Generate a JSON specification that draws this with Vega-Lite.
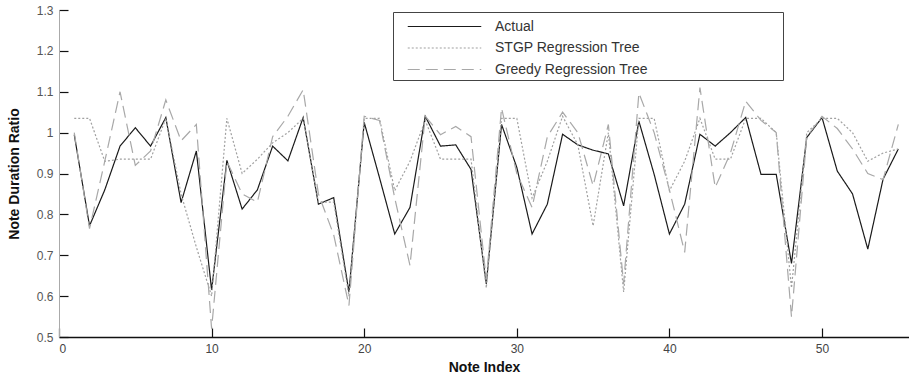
{
  "$schema": "https://vega.github.io/schema/vega-lite/v6.json",
  "autosize": "none",
  "padding": {"left": 59, "top": 10, "right": 0, "bottom": 42},
  "width": 850,
  "height": 327,
  "background": "white",
  "config": {
    "view": {"stroke": null},
    "font": "Liberation Sans"
  },
  "data": {"values": [
    {"i":1,"s":"Actual","v":0.995},{"i":2,"s":"Actual","v":0.772},{"i":3,"s":"Actual","v":0.86},{"i":4,"s":"Actual","v":0.967},{"i":5,"s":"Actual","v":1.012},
    {"i":6,"s":"Actual","v":0.967},{"i":7,"s":"Actual","v":1.037},{"i":8,"s":"Actual","v":0.829},{"i":9,"s":"Actual","v":0.955},{"i":10,"s":"Actual","v":0.615},
    {"i":11,"s":"Actual","v":0.932},{"i":12,"s":"Actual","v":0.813},{"i":13,"s":"Actual","v":0.86},{"i":14,"s":"Actual","v":0.967},{"i":15,"s":"Actual","v":0.931},
    {"i":16,"s":"Actual","v":1.037},{"i":17,"s":"Actual","v":0.825},{"i":18,"s":"Actual","v":0.841},{"i":19,"s":"Actual","v":0.61},{"i":20,"s":"Actual","v":1.025},
    {"i":21,"s":"Actual","v":0.89},{"i":22,"s":"Actual","v":0.752},{"i":23,"s":"Actual","v":0.817},{"i":24,"s":"Actual","v":1.04},{"i":25,"s":"Actual","v":0.967},
    {"i":26,"s":"Actual","v":0.97},{"i":27,"s":"Actual","v":0.91},{"i":28,"s":"Actual","v":0.63},{"i":29,"s":"Actual","v":1.02},{"i":30,"s":"Actual","v":0.915},
    {"i":31,"s":"Actual","v":0.752},{"i":32,"s":"Actual","v":0.825},{"i":33,"s":"Actual","v":0.996},{"i":34,"s":"Actual","v":0.97},{"i":35,"s":"Actual","v":0.957},
    {"i":36,"s":"Actual","v":0.948},{"i":37,"s":"Actual","v":0.821},{"i":38,"s":"Actual","v":1.028},{"i":39,"s":"Actual","v":0.898},{"i":40,"s":"Actual","v":0.752},
    {"i":41,"s":"Actual","v":0.825},{"i":42,"s":"Actual","v":0.996},{"i":43,"s":"Actual","v":0.967},{"i":44,"s":"Actual","v":1.0},{"i":45,"s":"Actual","v":1.037},
    {"i":46,"s":"Actual","v":0.898},{"i":47,"s":"Actual","v":0.898},{"i":48,"s":"Actual","v":0.68},{"i":49,"s":"Actual","v":0.988},{"i":50,"s":"Actual","v":1.037},
    {"i":51,"s":"Actual","v":0.906},{"i":52,"s":"Actual","v":0.85},{"i":53,"s":"Actual","v":0.715},{"i":54,"s":"Actual","v":0.886},{"i":55,"s":"Actual","v":0.96},

    {"i":1,"s":"STGP Regression Tree","v":1.035},{"i":2,"s":"STGP Regression Tree","v":1.035},{"i":3,"s":"STGP Regression Tree","v":0.93},{"i":4,"s":"STGP Regression Tree","v":0.935},{"i":5,"s":"STGP Regression Tree","v":0.935},
    {"i":6,"s":"STGP Regression Tree","v":0.935},{"i":7,"s":"STGP Regression Tree","v":1.035},{"i":8,"s":"STGP Regression Tree","v":0.85},{"i":9,"s":"STGP Regression Tree","v":0.72},{"i":10,"s":"STGP Regression Tree","v":0.6},
    {"i":11,"s":"STGP Regression Tree","v":1.035},{"i":12,"s":"STGP Regression Tree","v":0.9},{"i":13,"s":"STGP Regression Tree","v":0.935},{"i":14,"s":"STGP Regression Tree","v":0.975},{"i":15,"s":"STGP Regression Tree","v":1.0},
    {"i":16,"s":"STGP Regression Tree","v":1.035},{"i":17,"s":"STGP Regression Tree","v":0.83},{"i":18,"s":"STGP Regression Tree","v":0.83},{"i":19,"s":"STGP Regression Tree","v":0.6},{"i":20,"s":"STGP Regression Tree","v":1.035},
    {"i":21,"s":"STGP Regression Tree","v":1.035},{"i":22,"s":"STGP Regression Tree","v":0.858},{"i":23,"s":"STGP Regression Tree","v":0.93},{"i":24,"s":"STGP Regression Tree","v":1.03},{"i":25,"s":"STGP Regression Tree","v":0.935},
    {"i":26,"s":"STGP Regression Tree","v":0.935},{"i":27,"s":"STGP Regression Tree","v":0.935},{"i":28,"s":"STGP Regression Tree","v":0.62},{"i":29,"s":"STGP Regression Tree","v":1.035},{"i":30,"s":"STGP Regression Tree","v":1.035},
    {"i":31,"s":"STGP Regression Tree","v":0.84},{"i":32,"s":"STGP Regression Tree","v":0.93},{"i":33,"s":"STGP Regression Tree","v":1.04},{"i":34,"s":"STGP Regression Tree","v":0.97},{"i":35,"s":"STGP Regression Tree","v":0.772},
    {"i":36,"s":"STGP Regression Tree","v":1.0},{"i":37,"s":"STGP Regression Tree","v":0.61},{"i":38,"s":"STGP Regression Tree","v":1.035},{"i":39,"s":"STGP Regression Tree","v":1.035},{"i":40,"s":"STGP Regression Tree","v":0.858},
    {"i":41,"s":"STGP Regression Tree","v":0.93},{"i":42,"s":"STGP Regression Tree","v":1.035},{"i":43,"s":"STGP Regression Tree","v":0.935},{"i":44,"s":"STGP Regression Tree","v":0.935},{"i":45,"s":"STGP Regression Tree","v":1.035},
    {"i":46,"s":"STGP Regression Tree","v":1.035},{"i":47,"s":"STGP Regression Tree","v":1.0},{"i":48,"s":"STGP Regression Tree","v":0.62},{"i":49,"s":"STGP Regression Tree","v":1.0},{"i":50,"s":"STGP Regression Tree","v":1.035},
    {"i":51,"s":"STGP Regression Tree","v":1.035},{"i":52,"s":"STGP Regression Tree","v":1.0},{"i":53,"s":"STGP Regression Tree","v":0.93},{"i":54,"s":"STGP Regression Tree","v":0.95},{"i":55,"s":"STGP Regression Tree","v":0.96},

    {"i":1,"s":"Greedy Regression Tree","v":1.0},{"i":2,"s":"Greedy Regression Tree","v":0.765},{"i":3,"s":"Greedy Regression Tree","v":0.93},{"i":4,"s":"Greedy Regression Tree","v":1.1},{"i":5,"s":"Greedy Regression Tree","v":0.92},
    {"i":6,"s":"Greedy Regression Tree","v":0.955},{"i":7,"s":"Greedy Regression Tree","v":1.08},{"i":8,"s":"Greedy Regression Tree","v":0.98},{"i":9,"s":"Greedy Regression Tree","v":1.02},{"i":10,"s":"Greedy Regression Tree","v":0.52},
    {"i":11,"s":"Greedy Regression Tree","v":0.93},{"i":12,"s":"Greedy Regression Tree","v":0.85},{"i":13,"s":"Greedy Regression Tree","v":0.83},{"i":14,"s":"Greedy Regression Tree","v":0.99},{"i":15,"s":"Greedy Regression Tree","v":1.04},
    {"i":16,"s":"Greedy Regression Tree","v":1.105},{"i":17,"s":"Greedy Regression Tree","v":0.85},{"i":18,"s":"Greedy Regression Tree","v":0.75},{"i":19,"s":"Greedy Regression Tree","v":0.577},{"i":20,"s":"Greedy Regression Tree","v":1.04},
    {"i":21,"s":"Greedy Regression Tree","v":1.03},{"i":22,"s":"Greedy Regression Tree","v":0.84},{"i":23,"s":"Greedy Regression Tree","v":0.675},{"i":24,"s":"Greedy Regression Tree","v":1.04},{"i":25,"s":"Greedy Regression Tree","v":0.995},
    {"i":26,"s":"Greedy Regression Tree","v":1.015},{"i":27,"s":"Greedy Regression Tree","v":0.99},{"i":28,"s":"Greedy Regression Tree","v":0.64},{"i":29,"s":"Greedy Regression Tree","v":1.06},{"i":30,"s":"Greedy Regression Tree","v":0.9},
    {"i":31,"s":"Greedy Regression Tree","v":0.817},{"i":32,"s":"Greedy Regression Tree","v":0.99},{"i":33,"s":"Greedy Regression Tree","v":1.05},{"i":34,"s":"Greedy Regression Tree","v":1.0},{"i":35,"s":"Greedy Regression Tree","v":0.87},
    {"i":36,"s":"Greedy Regression Tree","v":1.02},{"i":37,"s":"Greedy Regression Tree","v":0.63},{"i":38,"s":"Greedy Regression Tree","v":1.097},{"i":39,"s":"Greedy Regression Tree","v":1.0},{"i":40,"s":"Greedy Regression Tree","v":0.86},
    {"i":41,"s":"Greedy Regression Tree","v":0.707},{"i":42,"s":"Greedy Regression Tree","v":1.11},{"i":43,"s":"Greedy Regression Tree","v":0.866},{"i":44,"s":"Greedy Regression Tree","v":0.95},{"i":45,"s":"Greedy Regression Tree","v":1.077},
    {"i":46,"s":"Greedy Regression Tree","v":1.03},{"i":47,"s":"Greedy Regression Tree","v":1.0},{"i":48,"s":"Greedy Regression Tree","v":0.549},{"i":49,"s":"Greedy Regression Tree","v":0.99},{"i":50,"s":"Greedy Regression Tree","v":1.04},
    {"i":51,"s":"Greedy Regression Tree","v":1.01},{"i":52,"s":"Greedy Regression Tree","v":0.96},{"i":53,"s":"Greedy Regression Tree","v":0.9},{"i":54,"s":"Greedy Regression Tree","v":0.885},{"i":55,"s":"Greedy Regression Tree","v":1.02}
  ]},
  "mark": {"type": "line", "strokeWidth": 1.2, "clip": true},
  "encoding": {
    "x": {
      "field": "i", "type": "quantitative",
      "scale": {"domain": [0, 55.7], "nice": false, "zero": false},
      "axis": {
        "values": [0, 10, 20, 30, 40, 50],
        "title": "Note Index",
        "titleFont": "Liberation Sans", "titleFontSize": 14, "titleFontWeight": "bold", "titleColor": "#111",
        "titlePadding": 6,
        "labelFont": "Liberation Sans", "labelFontSize": 12, "labelColor": "#444",
        "domainColor": "#111", "domainWidth": 1.5, "tickColor": "#111", "tickSize": -9, "tickWidth": 1.2, "labelPadding": 15,
        "grid": false
      }
    },
    "y": {
      "field": "v", "type": "quantitative",
      "scale": {"domain": [0.5, 1.3], "nice": false, "zero": false},
      "axis": {
        "values": [0.5, 0.6, 0.7, 0.8, 0.9, 1, 1.1, 1.2, 1.3],
        "format": "~g",
        "title": "Note Duration Ratio",
        "titleFont": "Liberation Sans", "titleFontSize": 14, "titleFontWeight": "bold", "titleColor": "#111",
        "titlePadding": 15,
        "labelFont": "Liberation Sans", "labelFontSize": 12, "labelColor": "#555",
        "domainColor": "#aaa", "tickColor": "#111", "tickSize": -9, "tickWidth": 1.2, "labelPadding": 15,
        "grid": false
      }
    },
    "color": {
      "field": "s", "type": "nominal",
      "scale": {
        "domain": ["Actual", "STGP Regression Tree", "Greedy Regression Tree"],
        "range": ["#1a1a1a", "#a0a0a0", "#a8a8a8"]
      },
      "legend": {
        "orient": "none", "legendX": 334, "legendY": 2,
        "title": "\u00a0",
        "titleOrient": "right",
        "titlePadding": 132,
        "symbolType": "M-3.5,0H3.5", "symbolSize": 441, "symbolStrokeWidth": 1.2,
        "symbolOffset": 37,
        "labelFont": "Liberation Sans", "labelFontSize": 14, "labelColor": "#333",
        "labelOffset": 39,
        "rowPadding": 2.5,
        "strokeColor": "#444", "padding": 3,
        "fillColor": "white"
      }
    },
    "strokeDash": {
      "field": "s", "type": "nominal",
      "scale": {
        "domain": ["Actual", "STGP Regression Tree", "Greedy Regression Tree"],
        "range": [[1, 0], [2, 2], [12, 6]]
      },
      "legend": null
    }
  }
}
